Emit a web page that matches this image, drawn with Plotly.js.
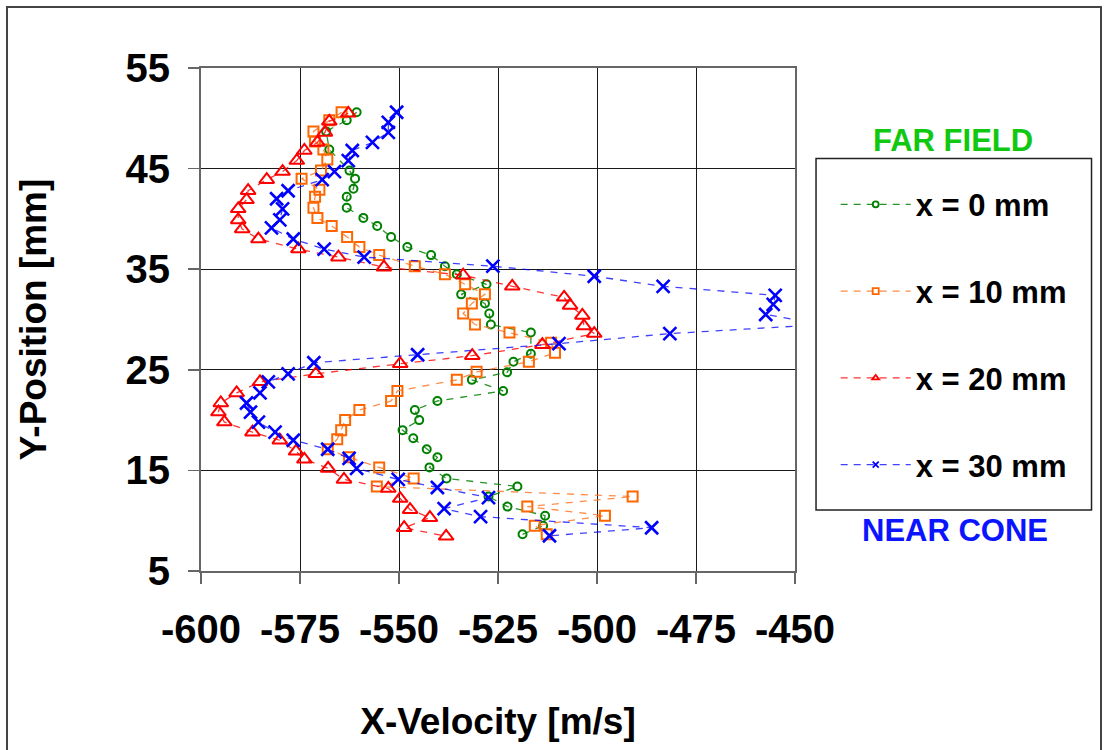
<!DOCTYPE html>
<html>
<head>
<meta charset="utf-8">
<script src="https://cdn.plot.ly/plotly-3.0.1.min.js"></script>
<style>
  html, body { margin: 0; padding: 0; background: #fff; }
  #wrap { position: relative; width: 1104px; height: 750px; overflow: hidden; }
  #chart { position: absolute; left: 0; top: 0; width: 1104px; height: 750px; }
  #frame { position: absolute; left: 6px; top: 6px; width: 1092px; height: 780px;
           border: 2px solid #444; pointer-events: none; }
</style>
</head>
<body>
<div id="wrap"><div id="chart"></div><div id="frame"></div></div>
<script>
// ---- data ----
const seriesNames = ["x = 0 mm", "x = 10 mm", "x = 20 mm", "x = 30 mm"];

const y0 = [50.6,49.8,48.7,46.9,44.8,44.0,43.0,42.2,41.1,40.1,39.3,38.2,37.2,36.4,35.3,34.5,33.5,32.5,31.6,30.6,29.5,28.7,26.6,25.8,24.75,24.0,22.9,21.9,21.0,20.0,19.0,18.2,17.1,16.3,15.3,14.2,13.4,12.4,11.4,10.5,9.5,8.65];
const v0 = [-560.7,-563.2,-568.4,-567.6,-562.5,-561.1,-561.5,-563.2,-563.2,-559,-555.5,-552,-547.9,-541.9,-538.4,-535.4,-527.9,-534.3,-528.3,-527.2,-526.8,-516.7,-516.7,-521.1,-522.7,-531.6,-523.7,-540.3,-546,-544.9,-549.1,-546.4,-543,-540.3,-542.3,-538,-520.1,-527.4,-522.6,-513.1,-513.6,-518.8];

const y10 = [50.6,49.8,48.7,47.7,46.9,45.9,44.8,44.0,42.9,42.2,41.1,40.1,39.3,38.2,37.2,36.4,35.3,34.5,33.5,32.5,31.6,30.6,29.5,28.7,27.7,26.7,25.8,24.8,24.0,22.9,21.9,21.0,20.0,19.0,18.1,17.1,16.3,15.3,14.2,13.4,12.4,11.4,10.5,9.5,8.65];
const v10 = [-564.5,-567.6,-571.6,-571.2,-569.1,-568.1,-569.7,-574.6,-570.1,-571.2,-571.6,-570.6,-567,-563.1,-560,-555,-546,-538.4,-533.3,-528.3,-531.6,-533.8,-530.8,-522.1,-511.6,-510.6,-517.2,-530.4,-535.4,-550.4,-552,-560,-563.6,-564.6,-565.6,-568,-562.6,-555,-546.3,-555.6,-491,-517.6,-498,-515.7,-512.7];

const y20 = [50.5,49.7,48.6,47.6,46.8,45.8,44.7,43.9,42.8,41.9,41.0,39.9,39.0,38.0,37.0,36.2,35.2,34.4,33.3,32.2,31.4,30.4,29.35,28.6,27.5,26.4,25.6,24.6,23.8,22.7,21.7,20.8,19.8,18.8,18.0,16.9,16.1,15.2,14.1,13.2,12.2,11.1,10.3,9.3,8.45];
const v20 = [-562.8,-567.6,-568.7,-570.6,-573.9,-575.8,-579.4,-583.4,-588.1,-588.5,-590.6,-590.6,-589.6,-585.5,-575.4,-565.3,-553.8,-533.8,-521.4,-508.3,-506.8,-503.7,-503.3,-500.7,-513.8,-531.5,-549.7,-571,-585.1,-591,-595,-595.6,-594.1,-587,-580.1,-576,-573.9,-567.9,-563.9,-552.7,-549.7,-547.2,-542.2,-548.7,-538.1];

const y30 = [50.6,49.6,48.6,47.6,46.8,45.8,44.7,43.9,42.8,42.0,41.0,39.9,39.1,38.0,37.0,36.2,35.3,34.3,33.3,32.4,31.5,30.5,29.5,28.6,27.6,26.5,25.7,24.6,23.8,22.7,21.7,20.8,19.8,18.8,18.0,17.1,16.2,15.2,14.1,13.3,12.3,11.2,10.4,9.3,8.5];
const v30 = [-550.6,-552.7,-552.7,-556.7,-561.8,-562.8,-566.3,-569.4,-578,-580.9,-579.4,-580.1,-582.2,-576.7,-568.9,-558.8,-526.3,-500.7,-483.3,-455,-455.5,-457.4,-443,-481.6,-509.6,-545.3,-571.5,-578,-583,-585.1,-588.5,-587.5,-585.5,-581.3,-576.7,-568,-562.6,-560.7,-550.2,-540.3,-527.4,-538.6,-529.4,-486.2,-512];

const xTicks = [-600,-575,-550,-525,-500,-475,-450];
const yTicks = [5,15,25,35,45,55];

// ---- styles ----
const FONT = "Liberation Sans, Arial, Helvetica, sans-serif";
const styles = [
  {color:"#008000", line:"rgba(0,128,0,0.85)",   symbol:"circle-open",      size:8,  lw:2},
  {color:"#ff6600", line:"rgba(255,120,40,0.85)", symbol:"square-open",      size:10, lw:2},
  {color:"#ff0000", line:"rgba(255,0,0,0.8)",     symbol:"triangle-up-open", size:13, lw:2},
  {color:"#0000ff", line:"rgba(0,0,255,0.75)",    symbol:"x-thin-open",      size:13, lw:2.6}
];
const xs = [v0, v10, v20, v30];
const ys = [y0, y10, y20, y30];

const traces = [];
for (let i = 0; i < 4; i++) {
  const s = styles[i];
  traces.push({
    type: "scatter", mode: "lines+markers", x: xs[i], y: ys[i],
    name: seriesNames[i], showlegend: false, cliponaxis: true,
    line: {color: s.line, width: 1.3, dash: "7px,7px"},
    marker: {symbol: s.symbol, size: s.size, color: s.color, line: {color: s.color, width: s.lw}}
  });
}
// legend entries (small markers, as in the reference)
for (let i = 0; i < 4; i++) {
  const s = styles[i];
  traces.push({
    type: "scatter", mode: "lines+markers", x: [null], y: [null],
    name: seriesNames[i], legendgroup: "g" + i, showlegend: true,
    line: {color: s.line, width: 1.3, dash: "7px,6px"},
    marker: {symbol: s.symbol, size: 6, color: s.color, line: {color: s.color, width: 1.8}}
  });
}

const axisCommon = {
  showgrid: true, gridcolor: "#1a1a1a", gridwidth: 1,
  showline: true, mirror: true, linecolor: "#666", linewidth: 2,
  ticks: "outside", ticklen: 11, tickcolor: "#666", tickwidth: 1.5,
  zeroline: false, fixedrange: true,
  tickfont: {family: FONT, size: 40, color: "#000", weight: "bold"}
};

const layout = {
  width: 1104, height: 750,
  margin: {l: 201, r: 309, t: 68, b: 179, pad: 0},
  paper_bgcolor: "#fff", plot_bgcolor: "#fff",
  font: {family: FONT, color: "#000"},
  xaxis: Object.assign({}, axisCommon, {
    range: [-600, -450], tickmode: "array", tickvals: xTicks, ticktext: xTicks.map(String),
    ticklabelstandoff: 11,
    title: {text: "X-Velocity [m/s]", standoff: 58, font: {family: FONT, size: 37, color: "#000", weight: "bold"}}
  }),
  yaxis: Object.assign({}, axisCommon, {
    range: [5, 55], tickmode: "array", tickvals: yTicks, ticktext: yTicks.map(String),
    ticklabelstandoff: 10,
    title: {text: "Y-Position [mm]", standoff: 68, font: {family: FONT, size: 37, color: "#000", weight: "bold"}}
  }),
  shapes: [{
    type: "rect", xref: "paper", yref: "paper",
    x0: 1.0354, x1: 1.4992, y0: 0.1213, y1: 0.8201,
    line: {color: "#222", width: 1.5}, fillcolor: "rgba(0,0,0,0)"
  }],
  legend: {
    x: 1.0685, xanchor: "left", y: 0.782, yanchor: "top",
    bgcolor: "rgba(0,0,0,0)", borderwidth: 0,
    traceorder: "grouped", tracegroupgap: 43.5, itemwidth: 70,
    font: {family: FONT, size: 31, color: "#000", weight: "bold"}
  },
  annotations: [
    {xref: "paper", yref: "paper", x: 1.266, y: 0.855, text: "FAR FIELD", showarrow: false,
     xanchor: "center", yanchor: "middle",
     font: {family: FONT, size: 31, color: "#10c810", weight: "bold"}},
    {xref: "paper", yref: "paper", x: 1.269, y: 0.0815, text: "NEAR CONE", showarrow: false,
     xanchor: "center", yanchor: "middle",
     font: {family: FONT, size: 31, color: "#0a14ff", weight: "bold"}}
  ]
};

Plotly.newPlot("chart", traces, layout, {displayModeBar: false, staticPlot: true});
</script>
</body>
</html>
